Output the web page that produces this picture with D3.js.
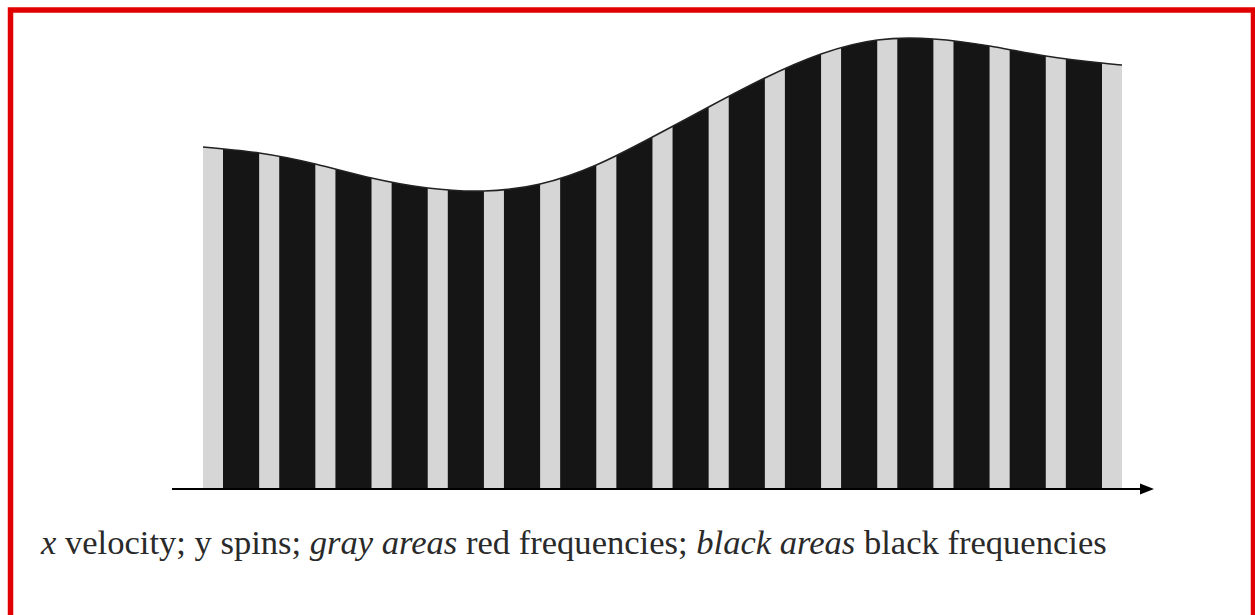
<!DOCTYPE html>
<html>
<head>
<meta charset="utf-8">
<script src="https://cdn.jsdelivr.net/npm/d3@7"></script>
<style>
  html, body { margin: 0; padding: 0; background: #fff; }
  svg { display: block; }
</style>
</head>
<body>
<svg id="chart" width="1255" height="615"></svg>
<script>
// ---- data ----
// number of full stripe periods (gray + black) along the velocity axis
const periods = [0,1,2,3,4,5,6,7,8,9,10,11,12,13,14,15,16];
const grayFraction = 0.356;           // share of each period that is gray (red frequencies)
// envelope of the spin distribution: velocity (in period units) and spins
const curveX = [0, 1, 2, 3, 4, 5, 6, 7, 8, 9, 10, 11, 12, 13, 14, 15, 16, 16.356];
const curveY = [342, 336, 325, 311, 301, 298, 305, 324, 352, 382, 411, 435, 449, 450, 443, 433, 426, 424];
const captionParts = [
  {text: "x", italic: true},
  {text: " velocity; y spins; ", italic: false},
  {text: "gray areas", italic: true},
  {text: " red frequencies; ", italic: false},
  {text: "black areas", italic: true},
  {text: " black frequencies", italic: false}
];

// ---- drawing ----
const svg = d3.select("#chart");

// frame
svg.append("rect")
  .attr("x", 10.5).attr("y", 10).attr("width", 1243).attr("height", 700)
  .attr("fill", "none").attr("stroke", "#e00000").attr("stroke-width", 5.5);

const xMax = periods[periods.length - 1] + grayFraction;
const x = d3.scaleLinear().domain([0, xMax]).range([203, 1122]);
const y = d3.scaleLinear().domain([0, 460]).range([489, 29]);

const pts = curveX.map((v, i) => [v, curveY[i]]);

const area = d3.area()
  .x(d => x(d[0])).y0(y(0)).y1(d => y(d[1]))
  .curve(d3.curveNatural);
const line = d3.line()
  .x(d => x(d[0])).y(d => y(d[1]))
  .curve(d3.curveNatural);

svg.append("clipPath").attr("id", "env")
  .append("path").attr("d", area(pts));

const g = svg.append("g").attr("clip-path", "url(#env)");

// gray stripes
g.selectAll("rect.gray").data(periods).join("rect")
  .attr("class", "gray")
  .attr("x", d => x(d))
  .attr("width", d => x(d + grayFraction) - x(d))
  .attr("y", y(460)).attr("height", y(0) - y(460))
  .attr("fill", "#d6d6d6");

// black stripes
g.selectAll("rect.black").data(periods.slice(0, -1)).join("rect")
  .attr("class", "black")
  .attr("x", d => x(d + grayFraction))
  .attr("width", d => x(d + 1) - x(d + grayFraction))
  .attr("y", y(460)).attr("height", y(0) - y(460))
  .attr("fill", "#151515");

// envelope outline
svg.append("path").attr("d", line(pts))
  .attr("fill", "none").attr("stroke", "#222").attr("stroke-width", 1.6);

// horizontal axis with arrow
svg.append("line")
  .attr("x1", 172).attr("x2", 1142).attr("y1", y(0)).attr("y2", y(0))
  .attr("stroke", "#000").attr("stroke-width", 2);
svg.append("path")
  .attr("d", `M1140,${y(0) - 5.5} L1154,${y(0)} L1140,${y(0) + 5.5} Z`)
  .attr("fill", "#000");

// caption
const cap = svg.append("text")
  .attr("x", 41).attr("y", 554)
  .attr("font-family", "'Liberation Serif', 'Times New Roman', serif")
  .attr("font-size", 26)
  .attr("fill", "#2a2a2a");
cap.selectAll("tspan").data(captionParts).join("tspan")
  .attr("font-style", d => d.italic ? "italic" : "normal")
  .text(d => d.text);
const w = cap.node().getComputedTextLength();
cap.attr("font-size", 26 * 1066 / w);
</script>
</body>
</html>
